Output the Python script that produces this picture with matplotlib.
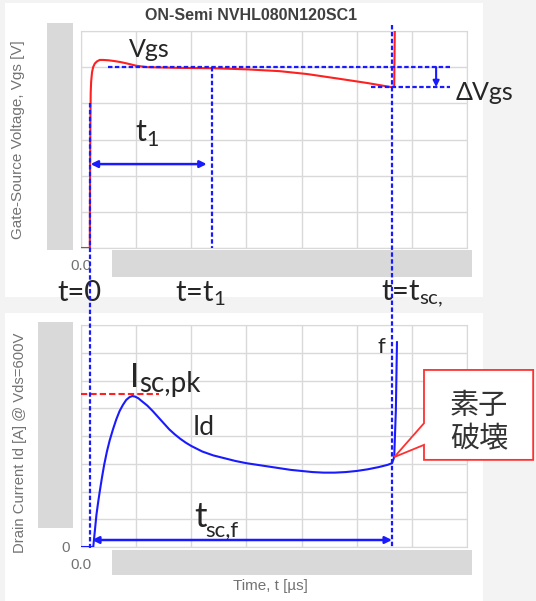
import numpy as np
import matplotlib.pyplot as plt
from matplotlib.patches import Rectangle, Polygon
from matplotlib.lines import Line2D
from matplotlib.transforms import blended_transform_factory

plt.rcParams['font.family'] = ['Lato', 'Noto Sans CJK JP', 'DejaVu Sans']

# 波形データ
t_vgs = [0.0, 0.08, 0.082, 0.085, 0.088, 0.092, 0.1, 0.11, 0.125, 0.145, 0.17, 0.2,
         0.25, 0.3, 0.36, 0.42, 0.5, 0.6, 0.9, 1.2, 1.5, 1.8, 2.05, 2.34, 2.6, 2.81,
         2.84, 2.845]
vgs = [-5, -5, 5, 12, 16.5, 18.0, 19.3, 20.0, 20.5, 20.8, 21.0, 21.0,
       20.95, 20.85, 20.7, 20.5, 20.2, 20.0, 19.9, 19.85, 19.7, 19.45, 19.05, 18.4, 17.8, 17.25,
       17.3, 24.9]

t_id = [0.0, 0.111, 0.12, 0.13, 0.14, 0.155, 0.17, 0.19, 0.21, 0.235, 0.26, 0.29, 0.32,
        0.35, 0.38, 0.41, 0.44, 0.465, 0.49, 0.52, 0.55, 0.6, 0.65, 0.7, 0.75, 0.8,
        0.85, 0.9, 0.95, 1.0, 1.1, 1.2, 1.3, 1.4, 1.5, 1.6, 1.7, 1.8, 1.9, 2.0, 2.1,
        2.2, 2.3, 2.4, 2.5, 2.6, 2.7, 2.78, 2.82, 2.84, 2.855, 2.865]
id_a = [0, 0, 18, 38, 58, 80, 100, 125, 148, 172, 192, 212, 230,
        245, 256, 265, 270, 272, 271, 268, 263, 255, 245, 234, 223, 212,
        203, 195, 188, 182, 172, 165, 160, 155, 151, 148, 145, 142, 139, 137, 135,
        134, 134, 135, 137, 140, 144, 148, 151, 162, 247, 369]

t0, t1, tsc = 0.08, 1.19, 2.82
vgs_plateau, vgs_end = 20.0, 17.25
isc_pk = 275

x_ticks = [0.0, 0.5, 1.0, 1.5, 2.0, 2.5, 3.0, 3.5]
x_ticklabels = ['0.0', '', '', '', '', '', '', '']
vgs_ticks = [-5, 0, 5, 10, 15, 20, 25]
id_ticks = [0, 50, 100, 150, 200, 250, 300, 350, 400]
id_ticklabels = ['0', '', '', '', '', '', '', '', '']

W, H = 536, 601
fig = plt.figure(figsize=(W / 100, H / 100), dpi=100, facecolor='#f3f3f3')


def fig_rect(x0, y0, x1, y1, **kw):
    return Rectangle((x0 / W, 1 - y1 / H), (x1 - x0) / W, (y1 - y0) / H,
                     transform=fig.transFigure, **kw)


# 白いパネル
fig.add_artist(fig_rect(5, 3, 483, 297, fc='white', ec='none', zorder=-10))
fig.add_artist(fig_rect(5, 313, 483, 601, fc='white', ec='none', zorder=-10))

ax1 = fig.add_axes([81 / W, 1 - 248 / H, 386 / W, 217 / H])
ax2 = fig.add_axes([81 / W, 1 - 547 / H, 386 / W, 222 / H])

grey = '#d9d9d9'
lab_col = '#737373'
txt = '#262626'
blue = '#1a1aff'
red = '#ff2020'
dash = (0, (2.0, 1.1))

for ax in (ax1, ax2):
    ax.set_xlim(0, 3.5)
    ax.set_xticks(x_ticks)
    ax.set_xticklabels(x_ticklabels)
    ax.grid(True, color=grey, lw=1)
    ax.set_axisbelow(True)
    for s in ax.spines.values():
        s.set_color(grey)
    ax.tick_params(length=0, pad=8, labelsize=11, labelcolor=lab_col)
    for lab in ax.get_xticklabels() + ax.get_yticklabels():
        lab.set_family('Liberation Sans')

ax1.set_ylim(-5, 25)
ax1.set_yticks(vgs_ticks)
ax1.set_yticklabels([''] * len(vgs_ticks))
ax2.set_ylim(0, 400)
ax2.set_yticks(id_ticks)
ax2.set_yticklabels(id_ticklabels)

ax1.set_ylabel('Gate-Source Voltage, Vgs [V]', fontsize=11, color=lab_col, family='Liberation Sans')
ax1.yaxis.set_label_coords(-0.145, 0.5)
ax2.set_ylabel('Drain Current Id [A] @ Vds=600V', fontsize=10.7, color=lab_col, family='Liberation Sans')
ax2.yaxis.set_label_coords(-0.14, 0.47)
ax2.set_xlabel('Time, t [µs]', fontsize=11, color=lab_col, family='Liberation Sans')
ax2.xaxis.set_label_coords(0.49, -0.145)

fig.text(251 / W, 1 - 16 / H, 'ON-Semi NVHL080N120SC1', ha='center', va='center',
         fontsize=11.5, fontweight='bold', color='#404040', family='Liberation Sans')

# 波形
ax1.plot(t_vgs, vgs, color=red, lw=1.5, zorder=3)
ax2.plot(t_id, id_a, color=blue, lw=1.5, zorder=3)

# 上段の補助線
ax1.plot([t1, t1], [vgs_plateau, -5], color=blue, lw=1.6, ls=dash, zorder=4)
ax1.plot([0.244, 3.35], [vgs_plateau, vgs_plateau], color=blue, lw=1.6, ls=dash, zorder=4)
ax1.plot([2.63, 3.35], [vgs_end, vgs_end], color=blue, lw=1.6, ls=dash, zorder=4)
ax1.annotate('', xy=(3.22, vgs_end), xytext=(3.22, vgs_plateau),
             arrowprops=dict(arrowstyle='-|>', color=blue, lw=1.5, mutation_scale=9,
                             shrinkA=0, shrinkB=0))
ax1.annotate('', xy=(1.14, 6.6), xytext=(0.087, 6.6),
             arrowprops=dict(arrowstyle='<|-|>', color=blue, lw=1.8, mutation_scale=10,
                             shrinkA=0, shrinkB=0))

# 下段の補助線
ax2.plot([0.0, 0.71], [isc_pk, isc_pk], color=red, lw=1.5, ls=(0, (3, 1.5)), zorder=4)
ax2.annotate('', xy=(tsc, 12.6), xytext=(0.1, 12.6),
             arrowprops=dict(arrowstyle='<|-|>', color=blue, lw=1.8, mutation_scale=10,
                             shrinkA=0, shrinkB=0))

# 上下をつなぐ縦の破線（上段のデータ座標から下段のデータ座標まで）
to_fig = fig.transFigure.inverted()
trans = blended_transform_factory(ax1.transData, fig.transFigure)
for x, ya in ((t0, 15), (tsc, 25.8)):
    y_top = to_fig.transform(ax1.transData.transform((x, ya)))[1]
    y_bot = to_fig.transform(ax2.transData.transform((x, -1)))[1]
    fig.add_artist(Line2D([x, x], [y_top, y_bot], transform=trans,
                          color=blue, lw=1.6, ls=dash, zorder=5))

# 目盛りを隠すグレーの帯
for r in ((47, 23, 73, 250), (112, 250, 472, 277), (38, 322, 73, 528), (112, 550, 472, 575)):
    fig.add_artist(fig_rect(*r, fc=grey, ec='none', zorder=2))


def sub_label(ax, x, y, main, sub, size, subsize, drop, gap=0.3):
    t = ax.text(x, y, main, fontsize=size, ha='left', va='baseline', color=txt)
    ax.annotate(sub, xy=(1, 0), xycoords=t,
                xytext=(gap, 0.2 * (size - subsize) - drop), textcoords='offset points',
                fontsize=subsize, ha='left', va='bottom', color=txt,
                annotation_clip=False)
    return t


ax1.text(0.62, 21.4, 'Vgs', fontsize=18, ha='center', va='baseline', color=txt)
ax1.text(3.40, 15.46, 'ΔVgs', fontsize=18, ha='left', va='baseline', color=txt,
         clip_on=False)
ax1.text(0.488, 9.66, r't$_{\mathregular{1}}$', fontsize=22, ha='left', va='baseline', color=txt)
ax1.text(-0.217, -12.3, 't=0', fontsize=21, ha='left', va='baseline', color=txt)
ax1.text(0.85, -12.3, r't=t$_{\mathregular{1}}$', fontsize=21, ha='left', va='baseline', color=txt)
ax1.text(2.72, -12.3, r't=t$_{\mathregular{sc,}}$', fontsize=21, ha='left', va='baseline', color=txt)

sub_label(ax2, 0.443, 288, 'I', 'sc,pk', 24, 20, 3.6)
ax2.text(1.013, 202, 'Id', fontsize=19, ha='left', va='baseline', color=txt)
sub_label(ax2, 1.03, 36, 't', 'sc,f', 25, 16, 7, gap=-1.0)
ax2.text(2.72, 350, 'f', fontsize=16, ha='center', va='baseline', color=txt)

# 吹き出し
callout = [(3.11, 319), (4.10, 319), (4.10, 157), (3.11, 157),
           (3.11, 184), (tsc + 0.02, 162), (3.11, 223)]
ax2.add_patch(Polygon(callout, closed=True, fc='white', ec='#ff3030', lw=1.3,
                      clip_on=False, zorder=6))
ax2.text(3.61, 224, '素子\n破壊', fontsize=21, ha='center', va='center', color='#333333',
         family=['Noto Sans CJK JP'], linespacing=1.15, zorder=7)

fig.savefig('out.png', dpi=100, facecolor=fig.get_facecolor())
